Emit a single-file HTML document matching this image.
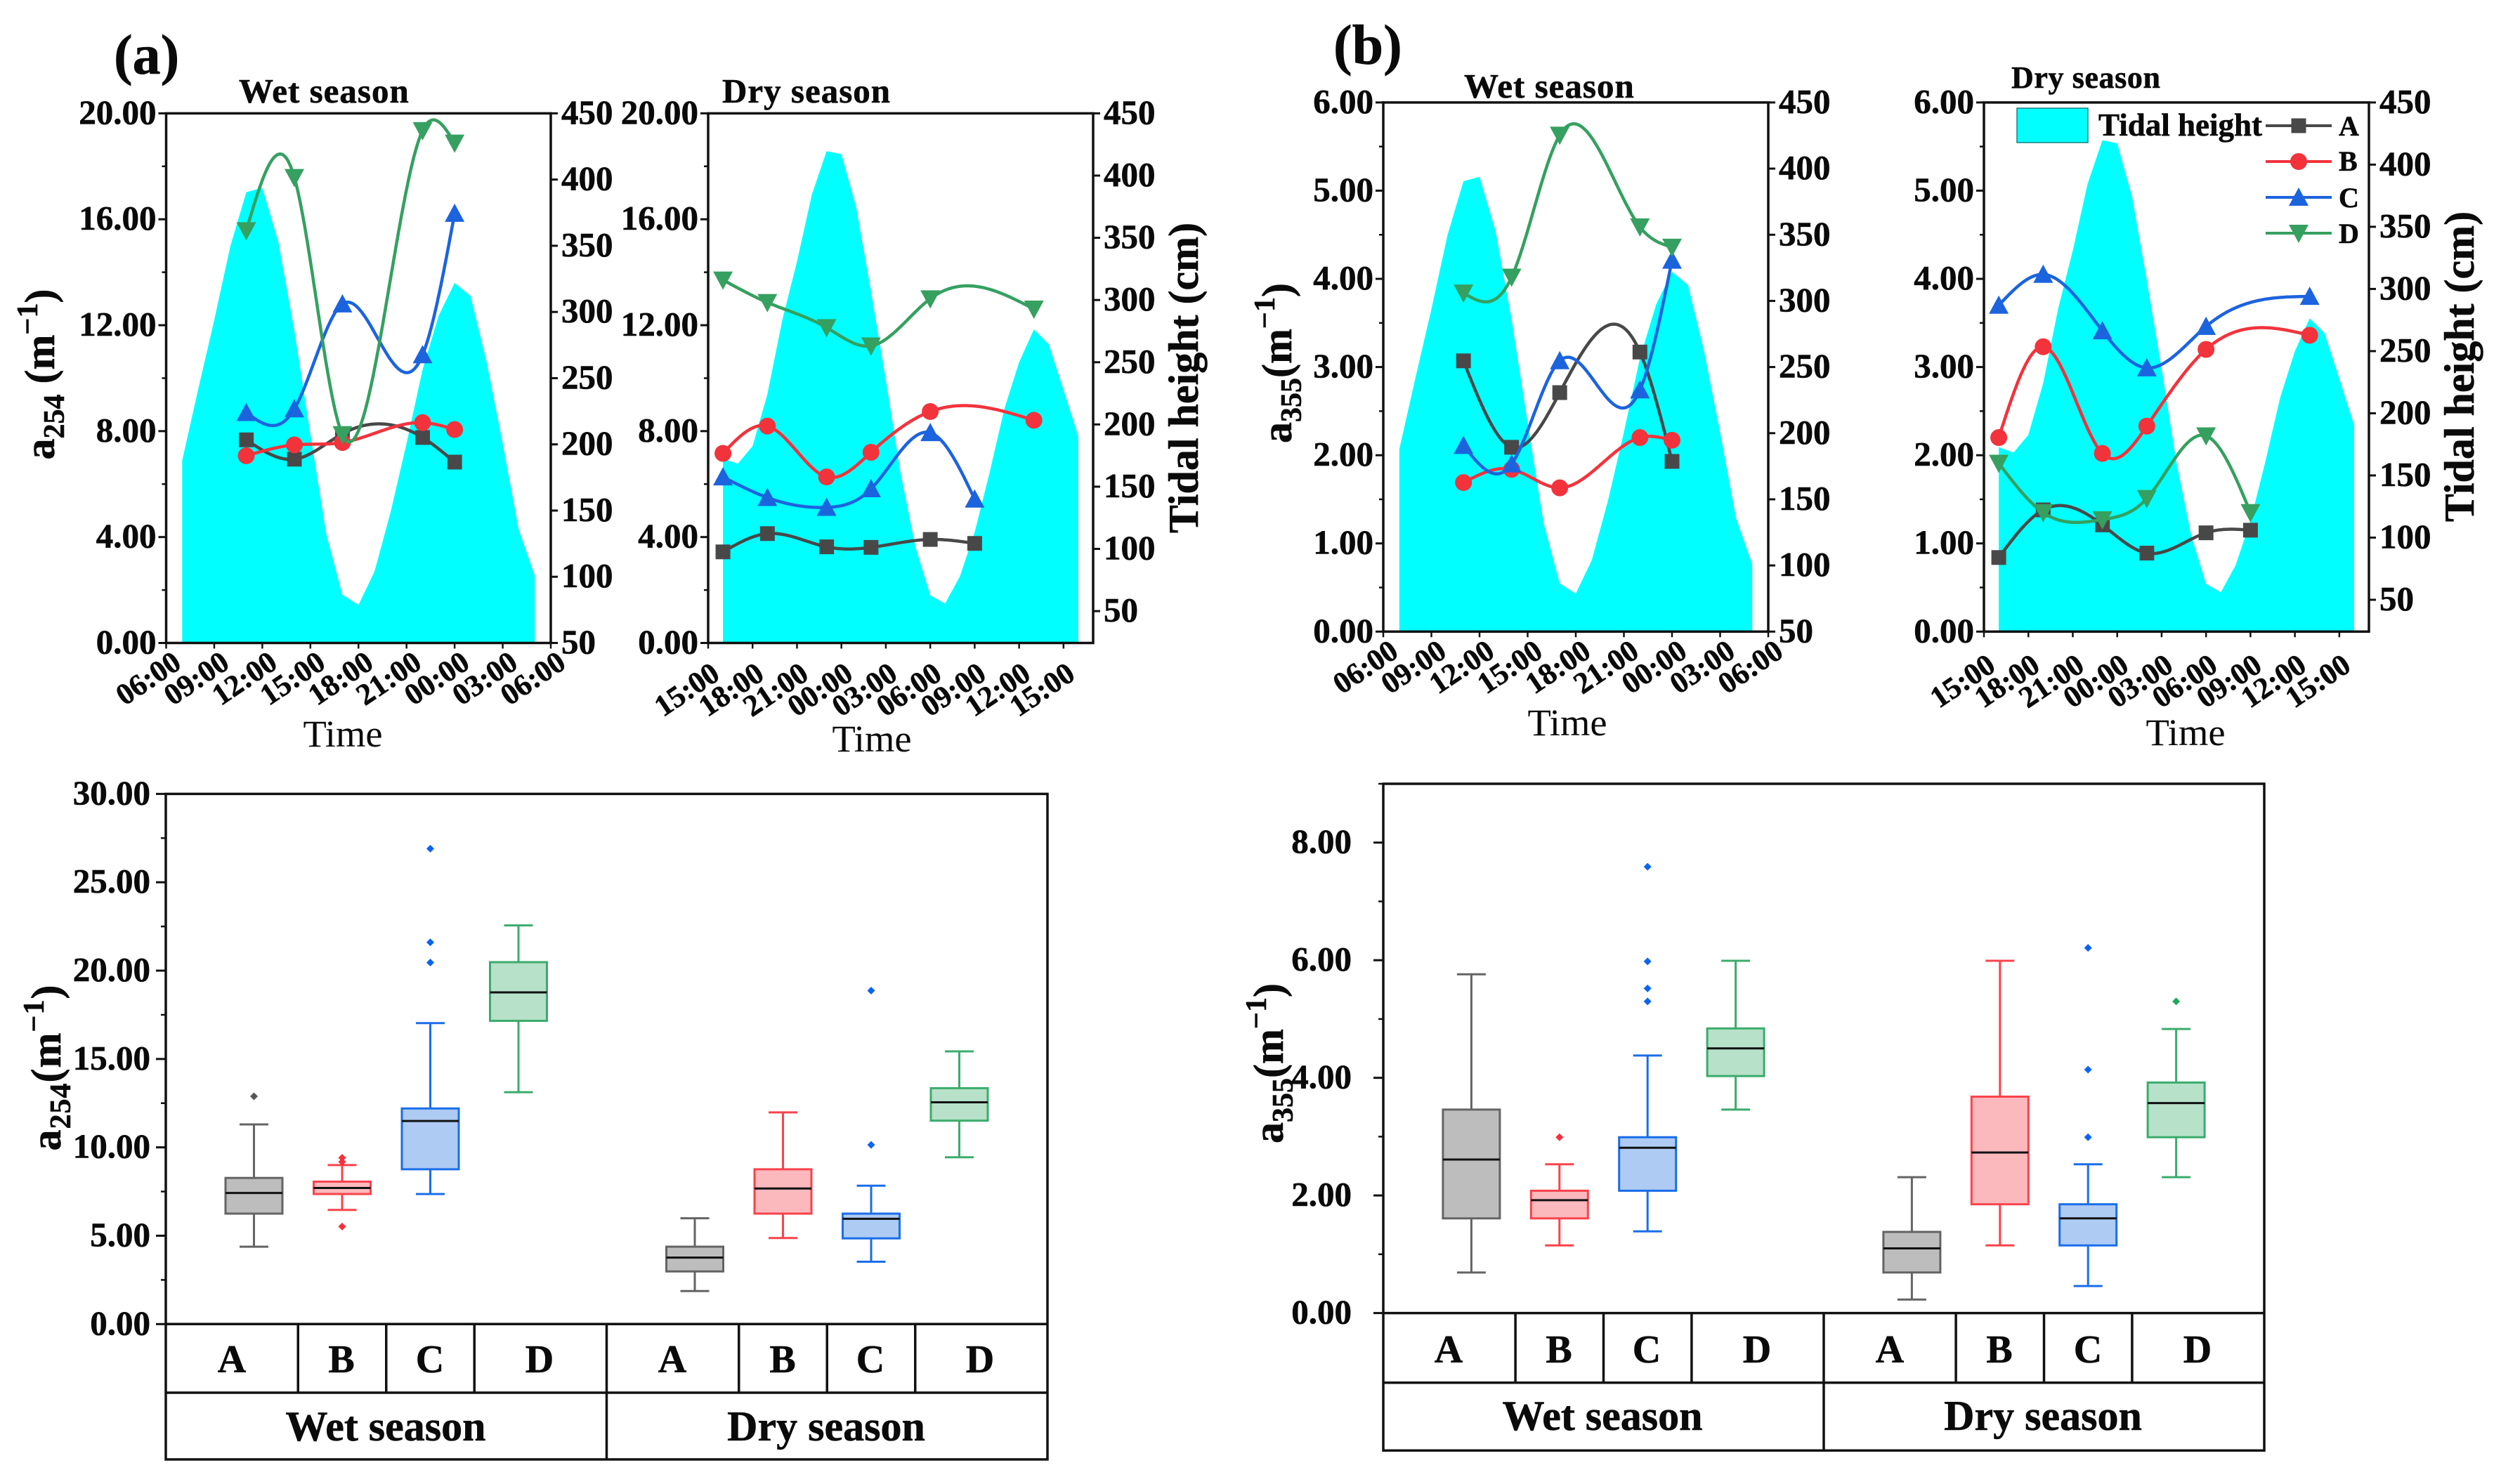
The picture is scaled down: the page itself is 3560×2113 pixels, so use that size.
<!DOCTYPE html>
<html lang="en">
<head>
<meta charset="utf-8">
<title>Absorption coefficients and tidal height</title>
<style>
html,body{margin:0;padding:0;background:#fff;}
svg{display:block;}
text{font-family:"Liberation Serif",serif;fill:#0a0a0a;}
.b{font-weight:bold;stroke:#0a0a0a;stroke-width:.6px;}
.t49{font-size:49px;font-weight:bold;stroke:#0a0a0a;stroke-width:.6px;}
.t60{font-size:60px;font-weight:bold;stroke:#0a0a0a;stroke-width:.6px;}
.title{letter-spacing:1px;}
.cat{font-size:56px;font-weight:bold;text-anchor:middle;stroke:#0a0a0a;stroke-width:.6px;}
.time{font-size:54.5px;text-anchor:middle;}
</style>
</head>
<body>
<svg id="figure" xmlns="http://www.w3.org/2000/svg" width="3560" height="2113" viewBox="0 0 3560 2113">
<rect x="0" y="0" width="3560" height="2113" fill="#fff"/>
<g id="charts"></g>
<g id="static-text">
  <text class="b" x="162" y="105" font-size="80">(a)</text>
  <text class="b" x="1898" y="91" font-size="80">(b)</text>

  <text class="t49 title" x="340" y="146">Wet season</text>
  <text class="t49 title" x="1028" y="146">Dry season</text>
  <text class="t49 title" x="2084" y="139">Wet season</text>
  <text class="b" font-size="44" letter-spacing="0.6" x="2863" y="125">Dry season</text>

  <text class="time" x="488" y="1063">Time</text>
  <text class="time" x="1241" y="1070">Time</text>
  <text class="time" x="2231" y="1047">Time</text>
  <text class="time" x="3111" y="1061">Time</text>

  <text class="t60" text-anchor="middle" transform="translate(77,533) rotate(-90)">a<tspan font-size="42" dy="14">254</tspan><tspan dy="-14"> (m</tspan><tspan font-size="42" dy="-24">−1</tspan><tspan dy="24">)</tspan></text>
  <text class="t60" text-anchor="middle" transform="translate(1838,517) rotate(-90)">a<tspan font-size="42" dy="14">355</tspan><tspan dy="-14">(m</tspan><tspan font-size="42" dy="-24">−1</tspan><tspan dy="24">)</tspan></text>
  <text class="t60" text-anchor="middle" letter-spacing="1" transform="translate(86,1520) rotate(-90)">a<tspan font-size="42" dy="14">254</tspan><tspan dy="-14">(m</tspan><tspan font-size="42" dy="-24">−1</tspan><tspan dy="24">)</tspan></text>
  <text class="t60" text-anchor="middle" transform="translate(1826,1514) rotate(-90)">a<tspan font-size="42" dy="14">355</tspan><tspan dy="-14">(m</tspan><tspan font-size="42" dy="-24">−1</tspan><tspan dy="24">)</tspan></text>

  <text class="t60" text-anchor="middle" transform="translate(1705,538) rotate(-90)">Tidal height (cm)</text>
  <text class="t60" text-anchor="middle" transform="translate(3521,522) rotate(-90)">Tidal height (cm)</text>

  <g>
    <text class="cat" x="330" y="1954">A</text>
    <text class="cat" x="486" y="1954">B</text>
    <text class="cat" x="612" y="1954">C</text>
    <text class="cat" x="768" y="1954">D</text>
    <text class="cat" x="957" y="1954">A</text>
    <text class="cat" x="1114" y="1954">B</text>
    <text class="cat" x="1239" y="1954">C</text>
    <text class="cat" x="1395" y="1954">D</text>
    <text class="t60" text-anchor="middle" x="549" y="2051">Wet season</text>
    <text class="t60" text-anchor="middle" x="1176" y="2051">Dry season</text>
  </g>
  <g>
    <text class="cat" x="2062" y="1940">A</text>
    <text class="cat" x="2219" y="1940">B</text>
    <text class="cat" x="2344" y="1940">C</text>
    <text class="cat" x="2501" y="1940">D</text>
    <text class="cat" x="2690" y="1940">A</text>
    <text class="cat" x="2846" y="1940">B</text>
    <text class="cat" x="2972" y="1940">C</text>
    <text class="cat" x="3128" y="1940">D</text>
    <text class="t60" text-anchor="middle" x="2281" y="2036">Wet season</text>
    <text class="t60" text-anchor="middle" x="2908" y="2036">Dry season</text>
  </g>

  <g>
    <rect x="2871" y="154" width="101" height="49" fill="#00ffff" stroke="#1a7f7f" stroke-width="1.5"/>
    <text class="b" font-size="45" x="2987" y="193">Tidal height</text>
    <text class="b" font-size="40" x="3329" y="193">A</text>
    <text class="b" font-size="40" x="3329" y="243">B</text>
    <text class="b" font-size="40" x="3329" y="295">C</text>
    <text class="b" font-size="40" x="3329" y="346">D</text>
  </g>
</g>
</svg>
<script>
/* ---------- tick labels ---------- */
const wetClockLabels = ["06:00","09:00","12:00","15:00","18:00","21:00","00:00","03:00","06:00"];
const dryClockLabels = ["15:00","18:00","21:00","00:00","03:00","06:00","09:00","12:00","15:00"];
const a254LineTicks = ["0.00","4.00","8.00","12.00","16.00","20.00"];
const a355LineTicks = ["0.00","1.00","2.00","3.00","4.00","5.00","6.00"];
const tideTicks = ["50","100","150","200","250","300","350","400","450"];
const a254BoxTicks = ["0.00","5.00","10.00","15.00","20.00","25.00","30.00"];
const a355BoxTicks = ["0.00","2.00","4.00","6.00","8.00"];
const boxCategories = ["A","B","C","D","A","B","C","D"];

/* ---------- tidal height (cm), hourly from one hour after the axis start ---------- */
const wetTide = [187.7,241.6,293.7,349.5,390.5,393.8,353,286,208,131.9,86.5,78.7,104,148.6,200.7,256.5,297,322,312,262,200.7,135.6,101];
const dryTide = [172.7,168.4,182.6,224.2,283.5,331,384.4,419.6,417.2,374.5,307.2,236,160.9,101.5,62.8,56,77.8,113.4,160.9,212.3,249.9,276.4,264.5,228,190.5];

/* ---------- sampling times (hours since axis start) ---------- */
const wetTimes = [5,8,11,16,18];
const dryTimesMorning = [1,4,8,11,15,18];
const dryTimesNoon = [1,4,8,11,15,22];

/* ---------- a254 wet ---------- */
const a254WetA = [7.67,6.94,7.9,7.76,6.83];
const a254WetB = [7.07,7.48,7.57,8.32,8.06];
const a254WetC = [8.7,8.84,12.8,10.88,16.22];
const a254WetD = [15.57,17.58,7.87,19.35,18.88];
/* ---------- a254 dry ---------- */
const a254DryA = [3.44,4.13,3.63,3.61,3.91,3.76];
const a254DryB = [7.16,8.19,6.27,7.2,8.74,8.41];
const a254DryC = [6.27,5.49,5.12,5.82,7.94,5.43];
const a254DryD = [13.71,12.86,11.91,11.22,13.0,12.61];
/* ---------- a355 wet ---------- */
const a355WetA = [3.07,2.09,2.71,3.17,1.93];
const a355WetB = [1.69,1.84,1.63,2.20,2.17];
const a355WetC = [2.11,1.90,3.07,2.74,4.21];
const a355WetD = [3.84,4.02,5.63,4.59,4.36];
/* ---------- a355 dry ---------- */
const a355DryA = [0.84,1.38,1.21,0.89,1.12,1.15];
const a355DryB = [2.20,3.23,2.02,2.33,3.20,3.36];
const a355DryC = [3.70,4.05,3.41,2.99,3.46,3.80];
const a355DryD = [1.91,1.35,1.27,1.51,2.22,1.35];

/* ---------- box statistics, a254 ---------- */
const a254BoxLow = [4.38,6.46,7.36,13.12,1.87,4.87,3.53,9.44];
const a254BoxQ1 = [6.25,7.36,8.76,17.16,2.98,6.25,4.85,11.51];
const a254BoxMedian = [7.42,7.7,11.49,18.77,3.76,7.67,5.96,12.55];
const a254BoxQ3 = [8.27,8.06,12.2,20.48,4.38,8.76,6.25,13.35];
const a254BoxHigh = [11.3,9.0,17.03,22.56,5.99,11.98,7.83,15.43];
const a254BoxOutliers = [[12.89],[9.41,9.18,5.52],[26.9,21.6,20.46],[],[],[],[18.87,10.14],[]];
/* ---------- box statistics, a355 ---------- */
const a355BoxLow = [0.69,1.15,1.39,3.46,0.23,1.15,0.46,2.31];
const a355BoxQ1 = [1.61,1.61,2.08,4.03,0.69,1.85,1.15,2.99];
const a355BoxMedian = [2.61,1.92,2.81,4.50,1.10,2.73,1.61,3.57];
const a355BoxQ3 = [3.46,2.08,2.99,4.84,1.38,3.68,1.85,3.92];
const a355BoxHigh = [5.76,2.53,4.38,5.99,2.31,5.99,2.53,4.83];
const a355BoxOutliers = [[],[2.99],[7.59,5.98,5.52,5.30],[],[],[],[6.21,4.14,2.99],[5.30]];

/* ---------- styling ---------- */
const NS = "http://www.w3.org/2000/svg";
const INK = "#111";
const AXIS_W = 3.5;
const seriesStyle = {
  A:{color:"#484848",shape:"square"},
  B:{color:"#f2333c",shape:"circle"},
  C:{color:"#1c63de",shape:"up"},
  D:{color:"#35a060",shape:"down"}
};
const boxStyle = {
  A:{fill:"#bdbdbd",stroke:"#646464",dot:"#555"},
  B:{fill:"#fbb9bd",stroke:"#f8434c",dot:"#f5303a"},
  C:{fill:"#aecbf4",stroke:"#1a6ee8",dot:"#0a64f0"},
  D:{fill:"#b7e1c8",stroke:"#3bac6d",dot:"#20a860"}
};
const root = document.getElementById("charts");

function mk(tag, parent, attrs, text){
  const el = document.createElementNS(NS, tag);
  for(const k in attrs){ el.setAttribute(k, attrs[k]); }
  if(text !== undefined){ el.textContent = text; }
  parent.appendChild(el);
  return el;
}

/* natural cubic spline through the data points, used only for the curve between marks */
function splineFn(xs, ys){
  const n = xs.length, m = new Array(n).fill(0), c = new Array(n).fill(0), d = new Array(n).fill(0);
  for(let i=1;i<n-1;i++){
    const h0 = xs[i]-xs[i-1], h1 = xs[i+1]-xs[i];
    const a = h0, b = 2*(h0+h1), r = 6*((ys[i+1]-ys[i])/h1-(ys[i]-ys[i-1])/h0);
    const w = b - a*c[i-1];
    c[i] = h1/w;
    d[i] = (r - a*d[i-1])/w;
  }
  for(let i=n-2;i>0;i--){ m[i] = d[i]-c[i]*m[i+1]; }
  return function(x){
    let i = 0;
    while(i<n-2 && x>xs[i+1]){ i++; }
    const h = xs[i+1]-xs[i], A = (xs[i+1]-x)/h, B = (x-xs[i])/h;
    return A*ys[i]+B*ys[i+1]+((A*A*A-A)*m[i]+(B*B*B-B)*m[i+1])*h*h/6;
  };
}

function drawMarker(parent, shape, cx, cy, color){
  let el;
  if(shape==="square"){
    el = mk("rect", parent, {x:cx-10.5,y:cy-10.5,width:21,height:21,fill:color});
  } else if(shape==="circle"){
    el = mk("circle", parent, {cx:cx,cy:cy,r:12,fill:color});
  } else if(shape==="up"){
    el = mk("polygon", parent, {points:[cx-14,cy+12,cx+14,cy+12,cx,cy-14].join(","),fill:color});
  } else {
    el = mk("polygon", parent, {points:[cx-14,cy-12,cx+14,cy-12,cx,cy+14].join(","),fill:color});
  }
  
  
}

function drawSeries(parent, key, times, values, xOf, yOf){
  const st = seriesStyle[key];
  const fn = splineFn(times, values);
  const t0 = times[0], t1 = times[times.length-1];
  const pts = [];
  for(let s=0;s<=240;s++){
    const t = t0+(t1-t0)*s/240;
    pts.push(xOf(t).toFixed(1)+","+yOf(fn(t)).toFixed(1));
  }
  const g = mk("g", parent, {});
  
  
  const line = mk("polyline", g, {points:pts.join(" "),fill:"none",stroke:st.color,"stroke-width":4.5,"stroke-linejoin":"round"});
  
  
  times.forEach(function(t,i){ drawMarker(g, st.shape, xOf(t), yOf(values[i]), st.color); });
}

function drawTicksLeft(parent, left, tickLabels, yOf, values, minorValues, majorLen, minorLen, labelRight){
  tickLabels.forEach(function(lbl,i){
    const y = yOf(values[i]);
    const t = mk("line", parent, {x1:left-majorLen,x2:left,y1:y,y2:y,stroke:INK,"stroke-width":3});
    
    
    const tx = mk("text", parent, {x:labelRight,y:y+15,"text-anchor":"end",class:"t49"}, lbl);
    
    
  });
  minorValues.forEach(function(v){
    const y = yOf(v);
    const t = mk("line", parent, {x1:left-minorLen,x2:left,y1:y,y2:y,stroke:INK,"stroke-width":2.5});
    
    
  });
}

function drawLinePanel(p){
  const g = mk("g", root, {});
  
  
  const W = p.right-p.left, H = p.bottom-p.top;
  const xOf = function(h){ return p.left+h/p.hMax*W; };
  const yL = function(v){ return p.bottom-v/p.yMax*H; };
  const yR = function(v){ return p.bottom-(v-p.rMin)/(450-p.rMin)*H; };

  const area = [xOf(1).toFixed(1)+","+p.bottom];
  p.tide.forEach(function(v,i){ area.push(xOf(1+i).toFixed(1)+","+yR(v).toFixed(1)); });
  area.push(xOf(p.tide.length).toFixed(1)+","+p.bottom);
  const tideEl = mk("polygon", g, {points:area.join(" "),fill:"#00ffff"});
  
  

  p.series.forEach(function(s){ drawSeries(g, s.key, s.times, s.values, xOf, yL); });

  const frame = mk("rect", g, {x:p.left,y:p.top,width:W,height:H,fill:"none",stroke:INK,"stroke-width":AXIS_W});
  
  

  const majors = p.leftTicks.map(function(l){ return parseFloat(l); });
  const minors = majors.slice(0,-1).map(function(v,i){ return (v+majors[i+1])/2; });
  drawTicksLeft(g, p.left, p.leftTicks, yL, majors, minors, 11, 6, p.left-14);

  tideTicks.forEach(function(lbl){
    const y = yR(parseFloat(lbl));
    const t = mk("line", g, {x1:p.right,x2:p.right+10,y1:y,y2:y,stroke:INK,"stroke-width":3});
    
    
    const tx = mk("text", g, {x:p.right+15,y:y+15,class:"t49"}, lbl);
    
    
  });

  p.clock.forEach(function(lbl,i){
    const x = xOf(i*3);
    const t = mk("line", g, {x1:x,x2:x,y1:p.bottom,y2:p.bottom+8,stroke:INK,"stroke-width":2.5});
    
    
    const ex = x+p.labelDx, ey = p.bottom+p.labelDy;
    const tx = mk("text", g, {x:ex,y:ey,"text-anchor":"end",class:"b","font-size":43,transform:"rotate(-34 "+ex+" "+ey+")"}, lbl);
    
    
  });
}

function drawBoxPanel(p){
  const g = mk("g", root, {});
  
  
  const unit = (p.right-p.left)/10;
  const xOf = function(i){ return p.left+unit*(i<4 ? i+1 : i+2); };
  const yOf = function(v){ return p.zero-v/p.yMax*(p.zero-p.top); };
  const boxW = 81, capW = 41;

  boxCategories.forEach(function(cat,i){
    const st = boxStyle[cat], cx = xOf(i);
    const box = mk("g", g, {});
    
    
    const whisk = mk("line", box, {x1:cx,x2:cx,y1:yOf(p.high[i]),y2:yOf(p.low[i]),stroke:st.stroke,"stroke-width":3});
    
    
    [p.high[i],p.low[i]].forEach(function(v){
      const cap = mk("line", box, {x1:cx-capW/2,x2:cx+capW/2,y1:yOf(v),y2:yOf(v),stroke:st.stroke,"stroke-width":3});
      
      
    });
    const rect = mk("rect", box, {x:cx-boxW/2,y:yOf(p.q3[i]),width:boxW,height:yOf(p.q1[i])-yOf(p.q3[i]),fill:st.fill,stroke:st.stroke,"stroke-width":3});
    
    
    const med = mk("line", box, {x1:cx-boxW/2,x2:cx+boxW/2,y1:yOf(p.median[i]),y2:yOf(p.median[i]),stroke:"#111","stroke-width":3});
    
    
    p.outliers[i].forEach(function(v){
      const y = yOf(v);
      const o = mk("polygon", box, {points:[cx-5.5,y,cx,y-5.5,cx+5.5,y,cx,y+5.5].join(","),fill:st.dot});
      
      
    });
  });

  const frame = mk("rect", g, {x:p.left,y:p.top,width:p.right-p.left,height:p.bottom-p.top,fill:"none",stroke:INK,"stroke-width":AXIS_W});
  
  
  [p.zero,p.row].forEach(function(y){
    const l = mk("line", g, {x1:p.left,x2:p.right,y1:y,y2:y,stroke:INK,"stroke-width":AXIS_W});
    
    
  });
  [1.5,2.5,3.5,6.5,7.5,8.5].forEach(function(c){
    const x = p.left+unit*c;
    const l = mk("line", g, {x1:x,x2:x,y1:p.zero,y2:p.row,stroke:INK,"stroke-width":AXIS_W});
    
    
  });
  const mid = mk("line", g, {x1:p.left+unit*5,x2:p.left+unit*5,y1:p.zero,y2:p.bottom,stroke:INK,"stroke-width":AXIS_W});
  
  

  const majors = p.ticks.map(function(l){ return parseFloat(l); });
  const minors = [];
  for(let v=p.minorStep; v<p.yMax+0.001; v+=p.minorStep){
    if(majors.indexOf(Math.round(v*100)/100)<0){ minors.push(v); }
  }
  drawTicksLeft(g, p.left, p.ticks, yOf, majors, minors, 14, 7, p.labelRight);
}

drawLinePanel({name:"chart-a254-wet",left:236.5,right:784,top:161.4,bottom:915.5,hMax:24,yMax:20,rMin:50,tide:wetTide,leftTicks:a254LineTicks,clock:wetClockLabels,labelDx:24,labelDy:34,
  series:[{key:"A",times:wetTimes,values:a254WetA},{key:"B",times:wetTimes,values:a254WetB},{key:"C",times:wetTimes,values:a254WetC},{key:"D",times:wetTimes,values:a254WetD}]});
drawLinePanel({name:"chart-a254-dry",left:1008,right:1556,top:161.4,bottom:915.5,hMax:26,yMax:20,rMin:24.4,tide:dryTide,leftTicks:a254LineTicks,clock:dryClockLabels,labelDx:19,labelDy:50,
  series:[{key:"A",times:dryTimesMorning,values:a254DryA},{key:"B",times:dryTimesNoon,values:a254DryB},{key:"C",times:dryTimesMorning,values:a254DryC},{key:"D",times:dryTimesNoon,values:a254DryD}]});
drawLinePanel({name:"chart-a355-wet",left:1969,right:2517,top:145.9,bottom:899.3,hMax:24,yMax:6,rMin:50,tide:wetTide,leftTicks:a355LineTicks,clock:wetClockLabels,labelDx:24,labelDy:34,
  series:[{key:"A",times:wetTimes,values:a355WetA},{key:"B",times:wetTimes,values:a355WetB},{key:"C",times:wetTimes,values:a355WetC},{key:"D",times:wetTimes,values:a355WetD}]});
drawLinePanel({name:"chart-a355-dry",left:2824,right:3372,top:145.9,bottom:899.3,hMax:26,yMax:6,rMin:24.4,tide:dryTide,leftTicks:a355LineTicks,clock:dryClockLabels,labelDx:19,labelDy:54,
  series:[{key:"A",times:dryTimesMorning,values:a355DryA},{key:"B",times:dryTimesNoon,values:a355DryB},{key:"C",times:dryTimesNoon,values:a355DryC},{key:"D",times:dryTimesMorning,values:a355DryD}]});

drawBoxPanel({name:"boxplot-a254",left:236,right:1491,top:1130.4,zero:1885.3,row:1983,bottom:2078,yMax:30,minorStep:2.5,ticks:a254BoxTicks,labelRight:214,
  low:a254BoxLow,q1:a254BoxQ1,median:a254BoxMedian,q3:a254BoxQ3,high:a254BoxHigh,outliers:a254BoxOutliers});
drawBoxPanel({name:"boxplot-a355",left:1969,right:3223,top:1116,zero:1869.6,row:1968.8,bottom:2065.3,yMax:9,minorStep:1,ticks:a355BoxTicks,labelRight:1924,
  low:a355BoxLow,q1:a355BoxQ1,median:a355BoxMedian,q3:a355BoxQ3,high:a355BoxHigh,outliers:a355BoxOutliers});

/* legend line samples */
const legendGroup = mk("g", root, {});


const legendKeys = ["A","B","C","D"];
const legendRowStart = 179, legendRowGap = 51;
legendKeys.forEach(function(key,i){
  const y = legendRowStart+legendRowGap*i;
  const st = seriesStyle[key];
  const l = mk("line", legendGroup, {x1:3225,x2:3319,y1:y,y2:y,stroke:st.color,"stroke-width":4});
  
  
  drawMarker(legendGroup, st.shape, 3272, y, st.color);
});
</script>
</body>
</html>
